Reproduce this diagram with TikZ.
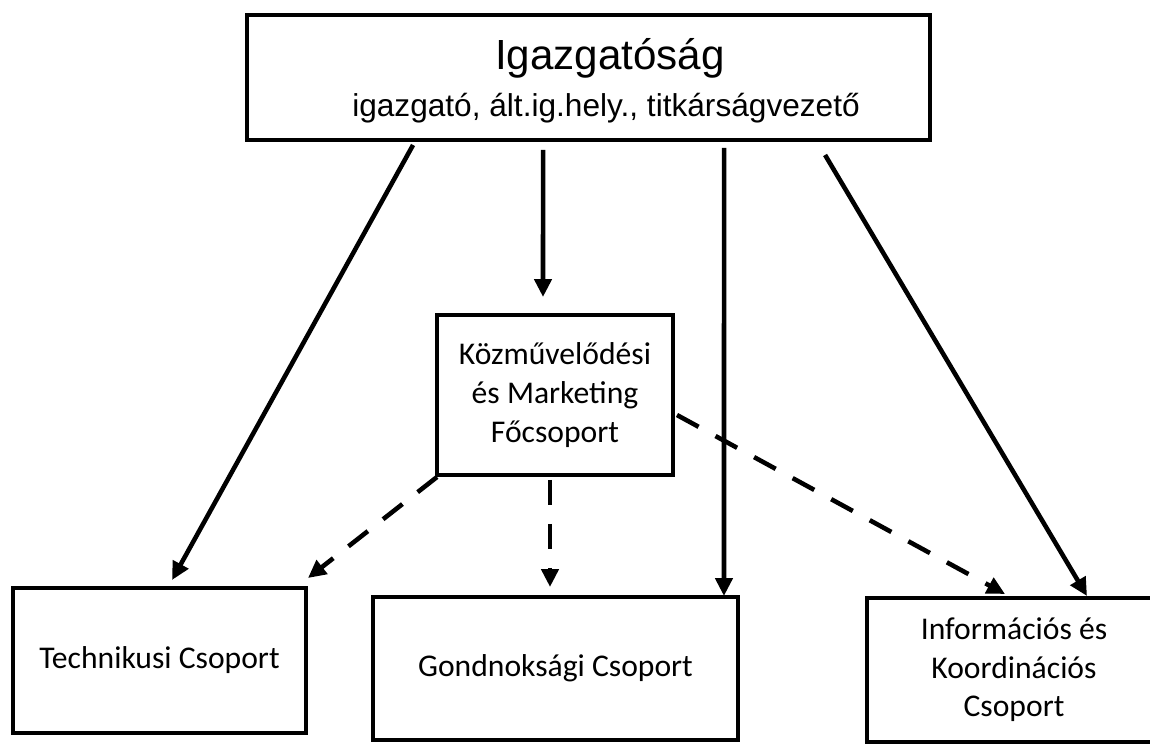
\documentclass[tikz,border=0pt]{standalone}
\usepackage{fontspec}
\setmainfont{Carlito}
\newfontfamily\headfont{Liberation Sans}
\usetikzlibrary{arrows.meta,calc}
\begin{document}
\begin{tikzpicture}[x=0.02cm,y=-0.02cm,
  box/.style={draw,line width=2.2pt,outer sep=0pt,inner sep=0pt,align=center,font=\fontsize{18}{22}\selectfont},
  arr/.style={line width=2.6pt,-{Triangle[length=0.36cm,width=0.34cm]}},
  dasharr/.style={arr,dash pattern=on 14pt off 11pt}]
\useasboundingbox (0,0) rectangle (1150,744);
\clip (0,0) rectangle (1150,744);
% boxes
\node[box,minimum width=13.66cm,minimum height=2.5cm] (board) at (588.5,77.5) {};
\node[font=\headfont\fontsize{24}{28}\selectfont,anchor=base] (title) at (610,69) {Igazgatóság};
\node[font=\headfont\fontsize{18}{22}\selectfont,anchor=base] (members) at (606,116) {igazgató, ált.ig.hely., titkárságvezető};
\node[box,minimum width=4.72cm,minimum height=3.2cm] (kozmu) at (555,395) {Közművelődési\\és Marketing\\Főcsoport};
\node[box,minimum width=5.86cm,minimum height=2.9cm] (tech) at (159.5,660.5) {Technikusi Csoport};
\node[box,minimum width=7.3cm,minimum height=2.86cm] (gond) at (555.5,668.5) {Gondnoksági Csoport};
\node[box,minimum width=5.88cm,minimum height=2.88cm] (info) at (1014,670) {Információs és\\Koordinációs\\Csoport};
% solid arrows
\draw[arr] ($(board.south west)+(166,5)$) -- ($(tech.north west)+(159,-8)$);
\draw[arr] ($(board.south west)+(296,10)$) -- ($(kozmu.north)+(-12,-18)$);
\draw[arr] ($(board.south west)+(477,8)$) -- ($(gond.north east)+(-14,-1)$);
\draw[arr] ($(board.south west)+(578,15)$) -- ($(info.north)+(73,-2)$);
% dashed arrows
\draw[dasharr] ($(kozmu.south west)+(0,2)$) -- ($(tech.north east)+(2,-10)$);
\draw[dasharr] ($(kozmu.south)+(-5,5)$) -- ($(gond.north)+(-5.5,-10)$);
\draw[dasharr] ($(kozmu.east)+(4,20)$) -- ($(info.north)+(-9,-4)$);
\end{tikzpicture}
\end{document}
